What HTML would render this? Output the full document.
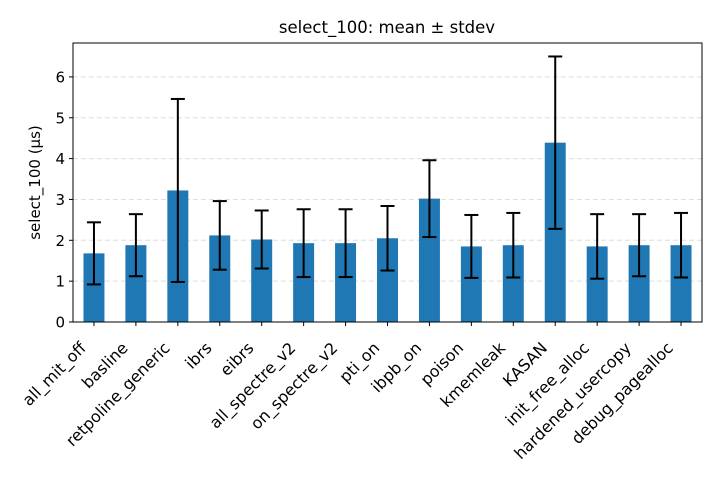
<!DOCTYPE html>
<html><head><meta charset="utf-8"><style>
body{margin:0;background:#fff;font-family:"DejaVu Sans","Liberation Sans",sans-serif}
</style></head><body>
<svg id="c" width="720" height="480" xmlns="http://www.w3.org/2000/svg" font-family="DejaVu Sans, Liberation Sans, sans-serif"></svg>
<script>
const categories=["all_mit_off","basline","retpoline_generic","ibrs","eibrs","all_spectre_v2","on_spectre_v2","pti_on","ibpb_on","poison","kmemleak","KASAN","init_free_alloc","hardened_usercopy","debug_pagealloc"];
const means=[1.68,1.88,3.22,2.12,2.02,1.93,1.93,2.05,3.02,1.85,1.88,4.39,1.85,1.88,1.88];
const stdevs=[0.76,0.76,2.24,0.84,0.71,0.83,0.83,0.79,0.94,0.77,0.79,2.11,0.79,0.76,0.79];
const yTicks=[0,1,2,3,4,5,6];
const NS="http://www.w3.org/2000/svg";
const svg=document.getElementById('c');
const L=73,R=702,T=43,B=322,YMAX=6.83;
const step=(R-L)/categories.length;
const xs=i=>L+(i+0.5)*step;
const ys=v=>B-(v/YMAX)*(B-T);
function mk(tag,attrs,parent){const e=document.createElementNS(NS,tag);for(const k in attrs)e.setAttribute(k,attrs[k]);(parent||svg).appendChild(e);return e;}
let t=mk('text',{x:387,y:33,'text-anchor':'middle','font-size':16.5,fill:'#000'});


t.textContent='select_100: mean ± stdev';
yTicks.forEach(v=>{
 const y=ys(v);
 if(v>0){const g=mk('line',{x1:L,x2:R,y1:y,y2:y,stroke:'#dddddd','stroke-dasharray':'5,3','stroke-width':1});
 
 }
 mk('line',{x1:L-4,x2:L,y1:y,y2:y,stroke:'#000'});
 const lb=mk('text',{x:L-8,y:y+5.5,'text-anchor':'end','font-size':15});
 
 
 lb.textContent=v;
});
categories.forEach((c,i)=>{
 const x=xs(i),bw=step*0.5;
 const b=mk('rect',{x:x-bw/2,y:ys(means[i]),width:bw,height:B-ys(means[i]),fill:'#1f77b4'});
 
 
 const hi=ys(means[i]+stdevs[i]),lo=ys(means[i]-stdevs[i]);
 const e=mk('g',{stroke:'#000','stroke-width':2});
 
 
 mk('line',{x1:x,x2:x,y1:hi,y2:lo},e);
 mk('line',{x1:x-7,x2:x+7,y1:hi,y2:hi},e);
 mk('line',{x1:x-7,x2:x+7,y1:lo,y2:lo},e);
 mk('line',{x1:x,x2:x,y1:B,y2:B+4,stroke:'#000'});
 const ax=x-7,ay=B+27;
 const lb=mk('text',{x:ax,y:ay,'text-anchor':'end','font-size':16,transform:`rotate(-45 ${ax} ${ay})`});
 
 
 lb.textContent=c;
});
const fr=mk('rect',{x:L,y:T,width:R-L,height:B-T,fill:'none',stroke:'#000','stroke-width':1});


const yl=mk('text',{x:40,y:(T+B)/2,'text-anchor':'middle','font-size':15,transform:`rotate(-90 40 ${(T+B)/2})`});


yl.textContent='select_100 (µs)';
</script>
</body></html>
